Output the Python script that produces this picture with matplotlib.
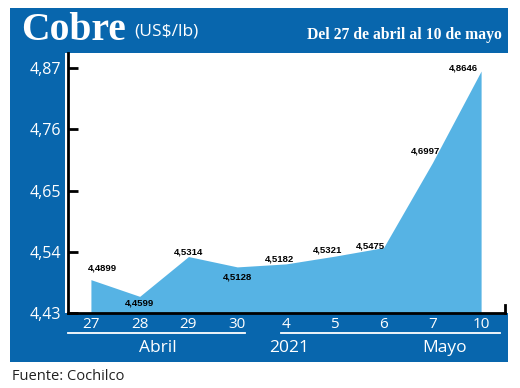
import numpy as np
import matplotlib
matplotlib.use('Agg')
import matplotlib.pyplot as plt
from matplotlib.patches import Rectangle
from matplotlib.lines import Line2D

days = ['27', '28', '29', '30', '4', '5', '6', '7', '10']
prices = [4.4899, 4.4599, 4.5314, 4.5128, 4.5182, 4.5321, 4.5475, 4.6997, 4.8646]
price_labels = ['4,4899', '4,4599', '4,5314', '4,5128', '4,5182', '4,5321', '4,5475', '4,6997', '4,8646']
yticks = [4.43, 4.54, 4.65, 4.76, 4.87]
ytick_labels = ['4,43', '4,54', '4,65', '4,76', '4,87']
months = ['Abril', '2021', 'Mayo']

# label offsets in pixels (dx, dy)
offsets = [(12, 12), (0, -7), (0, 5), (0, -10), (-7, 5), (-7, 6), (-13, 2), (-7, 12), (-18, 3)]

BLUE = '#0866ad'
FILL = '#56b3e4'
W, H = 520, 388

fig = plt.figure(figsize=(5.2, 3.88), dpi=100)
fig.patch.set_facecolor('white')

def px(x, y):
    return x / W, 1 - y / H

# blue frame and white plot area
fig.patches.append(Rectangle(px(10, 362), 498 / W, 354 / H, transform=fig.transFigure,
                             facecolor=BLUE, edgecolor='none', zorder=-2))
fig.patches.append(Rectangle(px(65, 313), 443 / W, 260 / H, transform=fig.transFigure,
                             facecolor='white', edgecolor='none', zorder=-1))

ax = fig.add_axes([68 / W, 1 - 313 / H, 437 / W, 260 / H])
ax.set_zorder(2)
ax.set_facecolor('none')
x = np.arange(len(days))
ax.fill_between(x, 4.43, prices, color=FILL, linewidth=0)
ax.set_xlim(-0.47, 8.49)
ax.set_ylim(4.43, 4.897)

for i, (lab, (dx, dy)) in enumerate(zip(price_labels, offsets)):
    ax.annotate(lab, (x[i], prices[i]), xytext=(dx, dy), textcoords='offset pixels',
                ha='center', va='center', fontsize=6.8, fontweight='bold',
                family=['Liberation Sans', 'DejaVu Sans'], color='black')

for s in ['top', 'right']:
    ax.spines[s].set_visible(False)
ax.spines['left'].set_linewidth(2)
ax.spines['bottom'].set_linewidth(2)
ax.plot([1, 1], [0, 0.03], transform=ax.transAxes, color='black', lw=2, clip_on=False)

ax.set_yticks(yticks)
ax.set_yticklabels(ytick_labels)
ax.tick_params(axis='y', direction='in', length=7, width=2, labelsize=11.5,
               labelcolor='white', pad=5)
ax.set_xticks(x)
ax.set_xticklabels(days)
ax.tick_params(axis='x', length=0, labelsize=11, labelcolor='white', pad=3)
for t in ax.get_xticklabels() + ax.get_yticklabels():
    t.set_family(['Open Sans', 'DejaVu Sans'])

# month underlines and labels
for x0, x1 in [(68, 245), (281, 500)]:
    fig.lines.append(Line2D([x0 / W, x1 / W], [1 - 333 / H] * 2, transform=fig.transFigure,
                            color='white', lw=1.3))
for name, xc in zip(months, [158, 289, 445]):
    fig.text(xc / W, 1 - 348 / H, name, ha='center', va='center', color='white',
             fontsize=12.5, family=['Open Sans', 'DejaVu Sans'])

# header
fig.text(21 / W, 1 - 30 / H, 'Cobre', ha='left', va='center', color='white',
         fontsize=28.5, fontweight='bold', family=['Liberation Serif', 'DejaVu Serif'])
fig.text(134 / W, 1 - 32 / H, '(US$/lb)', ha='left', va='center', color='white',
         fontsize=12.5, family=['Open Sans', 'DejaVu Sans'])
fig.text(502 / W, 1 - 35 / H, 'Del 27 de abril al 10 de mayo', ha='right', va='center',
         color='white', fontsize=11.3, fontweight='bold',
         family=['Liberation Serif', 'DejaVu Serif'])

fig.text(12 / W, 1 - 377 / H, 'Fuente: Cochilco', ha='left', va='center', color='#222222',
         fontsize=10.5, family=['Open Sans', 'DejaVu Sans'])

fig.savefig('out.png', dpi=100)
